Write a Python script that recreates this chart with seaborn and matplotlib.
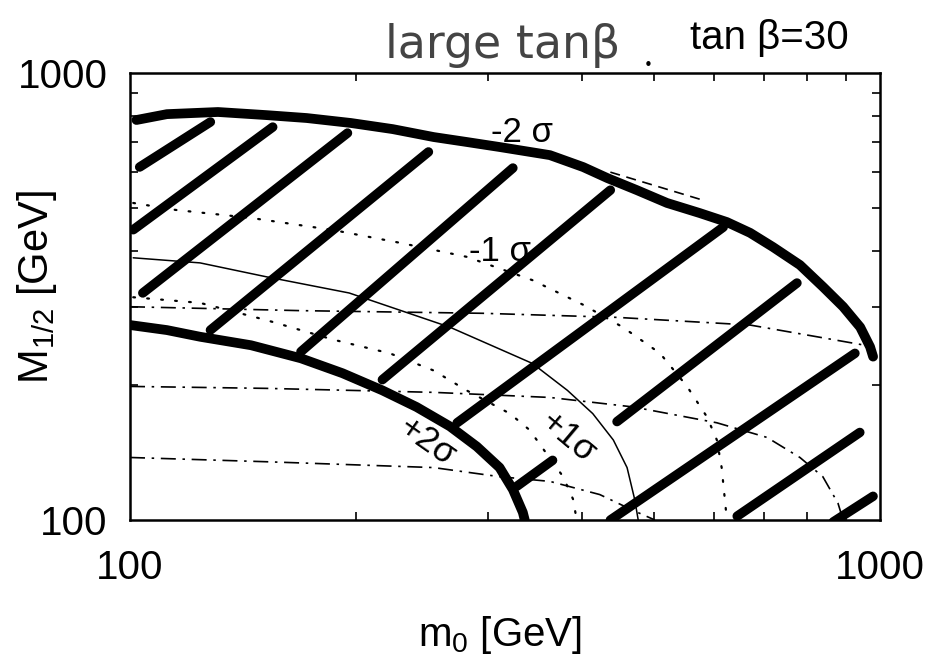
import numpy as np
import pandas as pd
import matplotlib
matplotlib.use("Agg")
import matplotlib.pyplot as plt
import seaborn as sns

# ---------------- data ----------------
# -2 sigma boundary (thick, upper)
minus2_m0 = [102, 112, 131, 152, 172, 197, 224, 254, 281, 311, 363, 402, 433, 474,
             520, 575, 625, 671, 720, 782, 840, 893, 941, 970, 979]
minus2_M = [785, 809, 818, 805, 793, 773, 749, 719, 701, 683, 655, 616, 582, 547,
            512, 486, 464, 439, 408, 372, 332, 300, 270, 244, 232]
# +2 sigma boundary (thick, lower)
plus2_m0 = [100, 112, 124, 145, 169, 192, 217, 241, 267, 290, 311, 324, 334, 336]
plus2_M = [273, 266, 257, 246, 230, 213, 195, 179, 162, 146, 131, 117, 104, 100]
# -1 sigma (dotted, upper)
minus1_m0 = [101, 115, 145, 187, 229, 281, 344, 402, 454, 509, 553, 588, 606, 615, 625]
minus1_M = [512, 494, 474, 445, 417, 388, 344, 303, 270, 236, 199, 170, 151, 131, 100]
# central value (solid thin)
central_m0 = [101, 124, 152, 196, 267, 344, 383, 414, 441, 460, 471, 476]
central_M = [386, 376, 350, 322, 270, 224, 195, 173, 151, 131, 111, 100]
# +1 sigma (dotted, lower)
plus1_m0 = [101, 124, 152, 187, 222, 254, 281, 321, 341, 359, 378, 390, 394]
plus1_M = [315, 306, 280, 253, 236, 216, 195, 173, 159, 141, 125, 111, 100]
# dash-dot contours
dd1_m0 = [100, 169, 296, 446, 671, 824, 955]
dd1_M = [300, 294, 290, 284, 273, 257, 246]
dd2_m0 = [100, 152, 254, 363, 469, 606, 707, 782, 839, 879, 893]
dd2_M = [199, 197, 193, 188, 179, 165, 153, 138, 125, 109, 100]
dd3_m0 = [100, 152, 254, 311, 363, 423, 469, 501]
dd3_M = [138, 135, 131, 125, 122, 114, 105, 100]
# short thin dashed piece along the -2 sigma edge
dash_m0 = [437, 575]
dash_M = [600, 522]
# hand-drawn hatching strokes (start m0, start M, end m0, end M)
hatch_m0_start = [103, 101, 104, 128, 169, 217, 273, 446, 437, 645, 866, 328]
hatch_M_start = [616, 446, 322, 266, 238, 206, 165, 166, 100, 102, 99, 119]
hatch_m0_end = [128, 155, 195, 250, 324, 437, 618, 775, 926, 940, 979, 366]
hatch_M_end = [777, 757, 734, 666, 613, 547, 452, 339, 236, 157, 113, 136]

x_ticks = [100, 1000]
y_ticks = [100, 1000]
x_ticklabels = ["100", "1000"]
y_ticklabels = ["100", "1000"]

# ---------------- style ----------------
sns.set_style("ticks")
plt.rcParams['font.family'] = ['Liberation Sans', 'DejaVu Sans']
plt.rcParams['mathtext.fontset'] = 'custom'
plt.rcParams['mathtext.rm'] = 'Liberation Sans'
plt.rcParams['mathtext.it'] = 'Liberation Sans:italic'
for key in ['text.color', 'axes.labelcolor', 'xtick.color', 'ytick.color',
            'axes.edgecolor']:
    plt.rcParams[key] = 'black'

fig = plt.figure(figsize=(9.29, 6.57), dpi=100)
ax = fig.add_axes([130 / 929, 1 - 520 / 657, 750 / 929, 447 / 657])


def draw(xs, ys, **kw):
    df = pd.DataFrame({"m0": xs, "M": ys})
    sns.lineplot(data=df, x="m0", y="M", sort=False, estimator=None, ax=ax,
                 legend=False, **kw)


thick = 7.0
draw(minus2_m0, minus2_M, color="black", linewidth=thick, solid_capstyle="round",
     solid_joinstyle="round")
draw(plus2_m0, plus2_M, color="black", linewidth=thick, solid_capstyle="round",
     solid_joinstyle="round")
draw(central_m0, central_M, color="black", linewidth=1.1, solid_joinstyle="round")
draw(minus1_m0, minus1_M, color="black", linewidth=1.6, linestyle=(0, (0.8, 5.5)),
     dash_capstyle="round")
draw(plus1_m0, plus1_M, color="black", linewidth=1.6, linestyle=(0, (0.8, 5.5)),
     dash_capstyle="round")
dd_style = dict(color="black", linewidth=1.2, linestyle=(0, (9, 4, 1.5, 4)))
draw(dd1_m0, dd1_M, **dd_style)
draw(dd2_m0, dd2_M, **dd_style)
draw(dd3_m0, dd3_M, **dd_style)
draw(dash_m0, dash_M, color="black", linewidth=1.2, linestyle=(0, (6, 4)))

for x0, y0, x1, y1 in zip(hatch_m0_start, hatch_M_start, hatch_m0_end, hatch_M_end):
    draw([x0, x1], [y0, y1], color="black", linewidth=6.8, solid_capstyle="round")

ax.set_xscale("log")
ax.set_yscale("log")
ax.set_xlim(100, 1000)
ax.set_ylim(100, 1000)

ax.set_xticks(x_ticks)
ax.set_xticklabels(x_ticklabels)
ax.set_yticks(y_ticks)
ax.set_yticklabels(y_ticklabels)
ax.xaxis.set_minor_locator(matplotlib.ticker.LogLocator(base=10, subs=np.arange(2, 10)))
ax.yaxis.set_minor_locator(matplotlib.ticker.LogLocator(base=10, subs=np.arange(2, 10)))
ax.xaxis.set_minor_formatter(matplotlib.ticker.NullFormatter())
ax.yaxis.set_minor_formatter(matplotlib.ticker.NullFormatter())
ax.tick_params(which="both", direction="in", top=True, right=True)
ax.tick_params(which="major", length=0, labelsize=29)
ax.tick_params(axis="x", which="major", pad=21)
ax.tick_params(axis="y", which="major", pad=16)
ax.tick_params(which="minor", length=6, width=1.2)
for s in ax.spines.values():
    s.set_linewidth(1.8)
    s.set_color("black")

ax.set_xlabel("m$_0$ [GeV]", fontsize=29)
ax.set_ylabel("M$_{1/2}$ [GeV]", fontsize=30)
ax.xaxis.set_label_coords(0.493, -0.21)
ax.yaxis.set_label_coords(-0.094, 0.52)

# contour labels
ax.text(333, 737, "-2 σ", fontsize=25, ha="center", va="center")
ax.text(311, 398, "-1 σ", fontsize=25, ha="center", va="center")
ax.text(249, 150, "+2σ", fontsize=25, ha="center", va="center", rotation=-35)
ax.text(384, 153, "+1σ", fontsize=25, ha="center", va="center", rotation=-40)

# top texts
fig.text(503 / 929, 1 - 46 / 657, "large tanβ", fontsize=33, color="#444444",
         ha="center", va="center", family=["DejaVu Sans Condensed", "DejaVu Sans"])
fig.text(648 / 929, 1 - 65 / 657, "•", fontsize=11, color="black", ha="center",
         va="center", family=["DejaVu Sans"])
fig.text(769 / 929, 1 - 38 / 657, "tan β=30", fontsize=29, ha="center", va="center")

fig.savefig("out.png", dpi=100)
